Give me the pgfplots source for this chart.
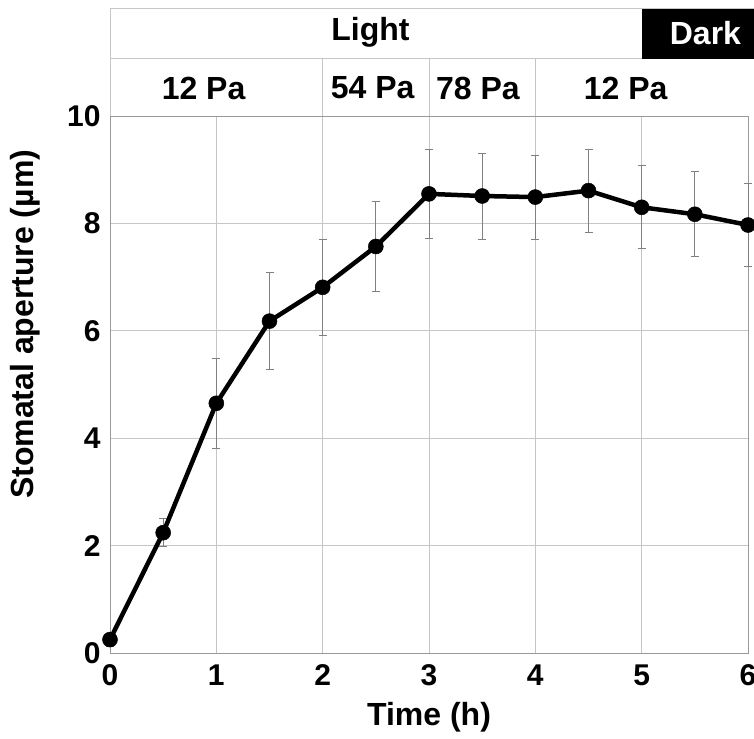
\documentclass[border=0pt]{standalone}
\usepackage{fontspec}
\setmainfont{Liberation Sans}
\usepackage{pgfplots}
\pgfplotsset{compat=1.18}

\pgfplotstableread{
x    y     e
0    0.25  0.12
0.5  2.24  0.26
1    4.65  0.84
1.5  6.18  0.90
2    6.81  0.90
2.5  7.57  0.84
3    8.55  0.83
3.5  8.51  0.80
4    8.49  0.78
4.5  8.61  0.77
5    8.30  0.77
5.5  8.17  0.79
6    7.97  0.78
}\aperture

\begin{document}
\begin{tikzpicture}
\begin{axis}[
    scale only axis,
    width=638pt, height=537pt,
    xmin=0, xmax=6, ymin=0, ymax=10,
    xtick={0,...,6}, ytick={0,2,...,10},
    grid=major,
    major grid style={gray!45, line width=0.6pt},
    axis line style={gray!80, line width=0.8pt},
    major tick length=0pt,
    clip=false,
    font=\fontsize{32}{38}\selectfont\bfseries,
    /pgf/number format/assume math mode=true,
    ticklabel style={font=\fontsize{30}{36}\selectfont\bfseries},
    xticklabel style={yshift=-8pt},
    yticklabel style={xshift=-6pt},
    xlabel={Time (h)},
    ylabel={Stomatal aperture (µm)},
    xlabel style={at={(axis description cs:0.5,-0.12)}, anchor=center},
    ylabel style={at={(axis description cs:-0.133,0.612)}, anchor=center},
]
% header bands
\draw[gray!45, line width=0.6pt] (axis cs:0,10) -- (axis cs:0,12) -- (axis cs:6.2,12);
\draw[gray!45, line width=0.6pt] (axis cs:0,11.07) -- (axis cs:6.2,11.07);
\draw[gray!45, line width=0.6pt] (axis cs:2,10) -- (axis cs:2,11.07);
\draw[gray!45, line width=0.6pt] (axis cs:3,10) -- (axis cs:3,11.07);
\draw[gray!45, line width=0.6pt] (axis cs:4,10) -- (axis cs:4,11.07);
\fill[black] (axis cs:5,11.07) rectangle (axis cs:6.2,11.99);
\node at (axis cs:2.45,11.55) {Light};
\node[white] at (axis cs:5.6,11.55) {Dark};
\node at (axis cs:0.88,10.52) {12 Pa};
\node at (axis cs:2.47,10.52) {54 Pa};
\node at (axis cs:3.46,10.52) {78 Pa};
\node at (axis cs:4.85,10.52) {12 Pa};
% error bars behind the line
\addplot[draw=none, mark=none,
    error bars/.cd, y dir=both, y explicit,
    error bar style={gray, line width=0.9pt},
    error mark options={gray, rotate=90, mark size=4pt, line width=0.9pt}]
    table[x=x, y=y, y error=e] {\aperture};
\addplot[black, line width=4.5pt, mark=*, mark size=7.5pt,
    mark options={solid, line width=0.5pt}]
    table[x=x, y=y] {\aperture};
\end{axis}
\pgfresetboundingbox
\path[use as bounding box] (-110pt,-85pt) rectangle (644pt,653pt);
\end{tikzpicture}
\end{document}
